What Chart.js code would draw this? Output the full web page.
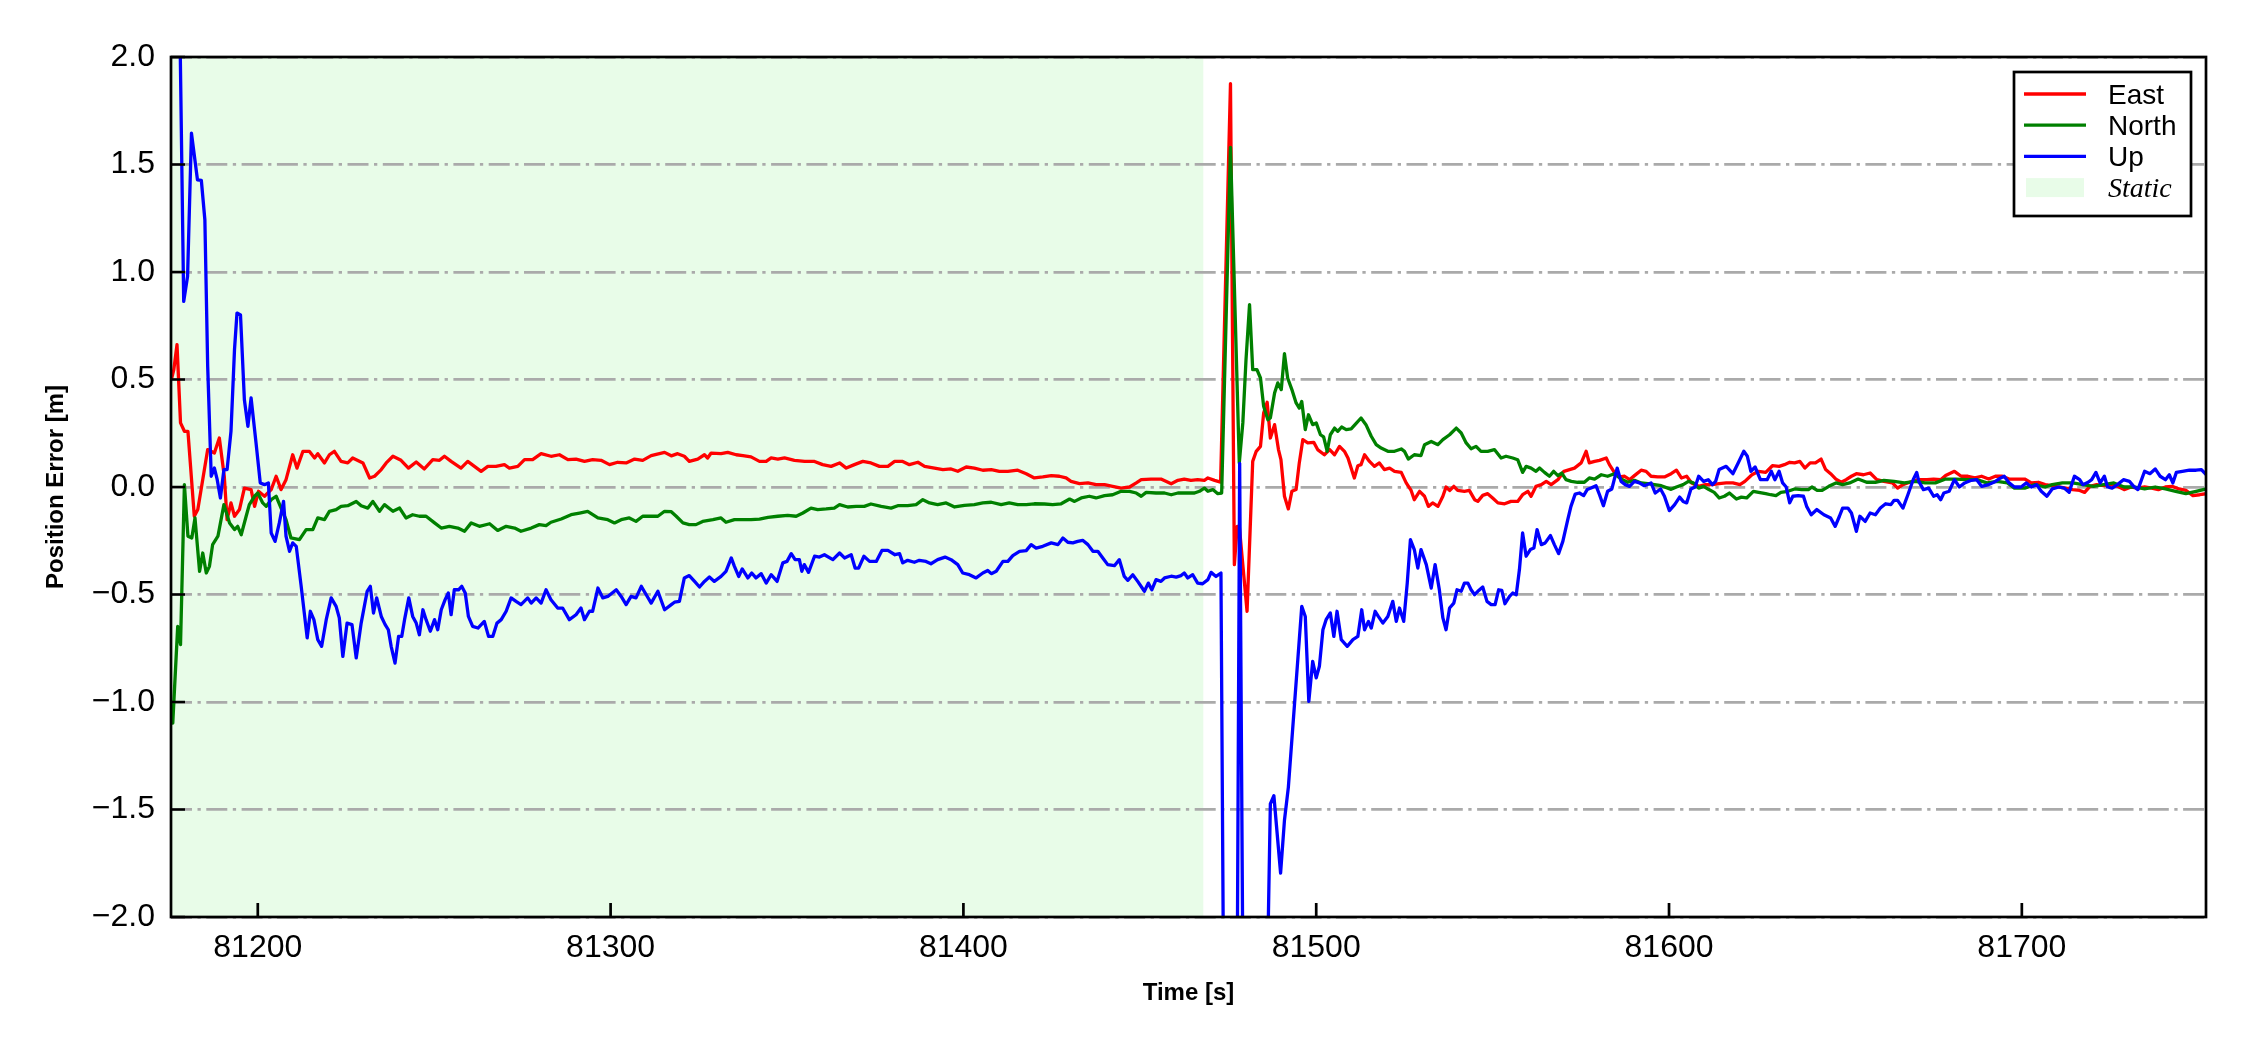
<!DOCTYPE html>
<html><head><meta charset="utf-8">
<script src="https://cdn.jsdelivr.net/npm/chart.js@4.4.1/dist/chart.umd.min.js"></script>
<style>html,body{margin:0;padding:0;background:#fff;}canvas{display:block;}</style>
</head><body>
<canvas id="c" width="2250" height="1050"></canvas>
<script>
// ---------------- data ----------------
const xRange = [81175.4, 81752.2];
const yRange = [-2.0, 2.0];
const staticSpan = [81175.4, 81468.0];
const xTicks = [81200, 81300, 81400, 81500, 81600, 81700];
const yTicks = [-2.0, -1.5, -1.0, -0.5, 0.0, 0.5, 1.0, 1.5, 2.0];
const seriesNames = ['East', 'North', 'Up'];
const staticLabel = 'Static';
const xTitle = 'Time [s]';
const yTitle = 'Position Error [m]';

const eastData = [
[81175.5,0.50],[81176.2,0.546],[81177.1,0.662],[81178.1,0.298],[81179.2,0.259],[81180.2,0.259],[81182.0,-0.136],[81183.0,-0.105],
[81185.8,0.174],[81187.7,0.158],[81189.1,0.228],[81190.5,0.05],[81191.3,-0.152],[81192.4,-0.074],[81193.4,-0.136],[81194.8,-0.105],
[81196.2,-0.005],[81198.1,-0.012],[81199.1,-0.09],[81200.2,-0.02],[81201.9,-0.043],[81203.8,-0.012],[81205.2,0.05],[81206.6,-0.012],
[81208.0,0.034],[81209.9,0.15],[81211.1,0.088],[81212.8,0.166],[81214.6,0.166],[81216.1,0.135],[81217.0,0.155],[81218.9,0.112],
[81220.3,0.15],[81221.7,0.166],[81223.6,0.119],[81225.5,0.112],[81226.9,0.135],[81229.8,0.112],[81231.7,0.042],[81233.1,0.05],
[81235.0,0.081],[81236.4,0.112],[81238.3,0.143],[81240.6,0.124],[81242.7,0.088],[81244.9,0.116],[81247.2,0.084],[81249.6,0.127],
[81251.5,0.124],[81252.9,0.143],[81254.8,0.119],[81257.6,0.088],[81259.5,0.119],[81261.4,0.096],[81263.3,0.073],[81265.2,0.096],
[81267.5,0.096],[81269.9,0.104],[81271.3,0.088],[81273.7,0.096],[81275.6,0.127],[81277.9,0.127],[81280.3,0.155],[81283.1,0.143],
[81285.5,0.15],[81287.9,0.127],[81290.2,0.130],[81292.6,0.119],[81294.9,0.127],[81297.3,0.124],[81299.7,0.104],[81302.0,0.115],
[81304.4,0.112],[81306.8,0.130],[81309.1,0.124],[81311.5,0.146],[81315.3,0.161],[81317.2,0.145],[81319.0,0.155],[81320.9,0.143],
[81322.3,0.119],[81324.7,0.13],[81326.6,0.15],[81327.5,0.135],[81328.5,0.158],[81331.3,0.155],[81333.2,0.161],[81335.6,0.15],
[81337.5,0.146],[81339.8,0.14],[81342.2,0.119],[81344.1,0.119],[81345.5,0.135],[81347.4,0.13],[81349.3,0.135],[81352.1,0.124],
[81355.0,0.119],[81357.8,0.119],[81360.1,0.104],[81362.5,0.096],[81364.9,0.112],[81366.8,0.088],[81369.1,0.104],[81371.5,0.119],
[81373.8,0.112],[81376.2,0.096],[81378.6,0.096],[81380.5,0.119],[81382.8,0.119],[81384.7,0.104],[81387.1,0.115],[81389.0,0.096],
[81391.8,0.088],[81394.2,0.081],[81396.5,0.084],[81398.4,0.073],[81400.8,0.093],[81403.1,0.088],[81405.5,0.078],[81407.9,0.081],
[81410.2,0.073],[81412.6,0.073],[81415.4,0.078],[81417.8,0.062],[81420.1,0.042],[81422.5,0.047],[81424.9,0.053],[81427.2,0.05],
[81429.1,0.042],[81430.5,0.026],[81432.9,0.016],[81435.3,0.019],[81437.6,0.011],[81440.0,0.011],[81442.3,0.003],[81444.7,-0.005],
[81447.1,0.0],[81449.0,0.019],[81450.4,0.034],[81453.2,0.037],[81456.0,0.037],[81458.9,0.015],[81460.8,0.031],[81462.6,0.037],
[81464.5,0.031],[81466.4,0.034],[81468.3,0.031],[81469.3,0.042],[81471.2,0.031],[81472.9,0.023],[81475.7,1.876],[81476.8,-0.361],
[81477.6,-0.183],[81478.2,-0.183],[81480.4,-0.578],[81482.0,0.119],[81483.0,0.166],[81484.2,0.189],[81485.1,0.344],[81486.1,0.394],
[81487.0,0.228],[81488.2,0.29],[81489.3,0.174],[81490.0,0.127],[81491.0,-0.043],[81492.1,-0.102],[81493.1,-0.02],[81494.3,-0.012],
[81495.2,0.112],[81496.2,0.22],[81497.6,0.205],[81499.3,0.208],[81500.4,0.174],[81502.3,0.15],[81503.8,0.174],[81505.2,0.15],
[81506.6,0.189],[81508.0,0.166],[81509.0,0.135],[81510.8,0.042],[81511.8,0.099],[81512.7,0.104],[81513.7,0.15],[81515.1,0.119],
[81516.5,0.096],[81517.9,0.112],[81519.3,0.081],[81520.8,0.088],[81522.2,0.073],[81524.1,0.068],[81525.5,0.019],[81526.9,-0.016],
[81527.8,-0.059],[81529.3,-0.02],[81530.7,-0.043],[81531.8,-0.09],[81533.0,-0.074],[81534.5,-0.09],[81535.9,-0.043],[81536.8,0.0],
[81537.8,-0.016],[81539.0,0.003],[81540.1,-0.016],[81542.0,-0.02],[81543.4,-0.016],[81544.9,-0.059],[81545.8,-0.067],[81547.2,-0.039],
[81548.6,-0.031],[81550.0,-0.051],[81551.5,-0.074],[81553.4,-0.078],[81555.2,-0.067],[81557.1,-0.067],[81558.5,-0.036],[81560.0,-0.02],
[81560.9,-0.043],[81562.3,0.003],[81563.8,0.011],[81565.2,0.026],[81566.6,0.011],[81568.5,0.034],[81570.2,0.073],[81571.8,0.081],
[81573.2,0.088],[81575.1,0.112],[81576.5,0.166],[81577.4,0.112],[81578.9,0.119],[81580.3,0.124],[81582.2,0.135],[81583.1,0.104],
[81584.5,0.068],[81586.0,0.047],[81587.4,0.05],[81588.8,0.034],[81590.2,0.053],[81592.1,0.078],[81593.5,0.073],[81594.9,0.05],
[81596.8,0.047],[81598.7,0.047],[81600.6,0.062],[81602.1,0.078],[81603.5,0.042],[81605.0,0.05],[81606.4,0.019],[81608.4,0.003],
[81610.3,0.011],[81612.3,0.011],[81614.2,0.016],[81616.2,0.019],[81618.1,0.019],[81620.1,0.011],[81621.5,0.026],[81623.5,0.057],
[81625.4,0.073],[81627.4,0.068],[81629.3,0.099],[81631.2,0.096],[81632.7,0.104],[81634.2,0.115],[81635.6,0.112],[81637.1,0.119],
[81638.5,0.088],[81640.0,0.112],[81641.5,0.112],[81643.1,0.13],[81644.4,0.081],[81645.8,0.062],[81647.3,0.037],[81648.8,0.022],
[81650.2,0.034],[81651.7,0.05],[81653.1,0.062],[81655.1,0.057],[81657.0,0.065],[81658.9,0.034],[81660.9,0.026],[81663.3,0.019],
[81664.8,-0.005],[81666.3,0.011],[81668.2,0.022],[81670.6,0.034],[81673.1,0.034],[81675.0,0.037],[81677.0,0.034],[81678.4,0.053],
[81680.9,0.073],[81682.8,0.05],[81684.7,0.05],[81686.7,0.042],[81688.6,0.05],[81690.6,0.037],[81692.5,0.05],[81694.5,0.05],
[81696.4,0.037],[81698.4,0.037],[81700.8,0.037],[81702.7,0.019],[81704.7,0.022],[81706.6,0.011],[81708.6,0.006],[81710.5,0.0],
[81712.5,-0.005],[81714.4,-0.012],[81716.4,-0.016],[81717.8,-0.025],[81719.3,0.003],[81721.2,0.011],[81723.2,0.006],[81725.1,0.011],
[81727.1,0.003],[81729.0,-0.012],[81731.0,0.0],[81732.9,-0.005],[81734.8,0.0],[81736.8,-0.005],[81738.7,-0.012],[81740.7,0.0],
[81742.6,0.003],[81744.6,-0.009],[81746.5,-0.016],[81748.5,-0.04],[81750.4,-0.036],[81752.3,-0.031]
];

const northData = [
[81175.5,-1.02],[81175.9,-1.098],[81177.3,-0.648],[81178.1,-0.733],[81179.2,0.011],[81180.2,-0.229],[81181.3,-0.237],[81182.2,-0.144],
[81183.5,-0.392],[81184.4,-0.307],[81185.4,-0.4],[81186.3,-0.369],[81187.2,-0.268],[81188.7,-0.229],[81190.4,-0.082],[81192.0,-0.167],
[81193.4,-0.198],[81194.3,-0.183],[81195.3,-0.222],[81196.7,-0.136],[81197.6,-0.082],[81199.1,-0.043],[81200.0,-0.028],[81201.4,-0.074],
[81202.4,-0.09],[81203.8,-0.059],[81205.2,-0.043],[81206.6,-0.098],[81208.0,-0.152],[81209.4,-0.237],[81211.8,-0.245],[81213.7,-0.198],
[81215.6,-0.198],[81217.0,-0.144],[81218.9,-0.152],[81220.3,-0.113],[81222.2,-0.105],[81223.6,-0.09],[81225.5,-0.087],[81227.9,-0.067],
[81229.3,-0.087],[81231.2,-0.098],[81232.6,-0.067],[81234.5,-0.113],[81235.9,-0.082],[81238.3,-0.113],[81240.2,-0.098],[81242.0,-0.144],
[81243.9,-0.129],[81245.8,-0.136],[81247.7,-0.136],[81250.1,-0.167],[81252.0,-0.191],[81254.3,-0.183],[81256.7,-0.191],[81258.6,-0.206],
[81260.5,-0.167],[81262.8,-0.183],[81265.7,-0.171],[81268.0,-0.202],[81270.4,-0.183],[81272.8,-0.191],[81274.6,-0.206],[81277.5,-0.191],
[81279.8,-0.175],[81281.7,-0.18],[81283.1,-0.164],[81286.0,-0.149],[81288.8,-0.129],[81291.2,-0.121],[81293.5,-0.113],[81296.4,-0.144],
[81299.2,-0.152],[81301.1,-0.167],[81303.0,-0.152],[81305.3,-0.144],[81307.2,-0.16],[81309.1,-0.136],[81311.5,-0.136],[81313.4,-0.136],
[81315.3,-0.113],[81317.2,-0.115],[81318.6,-0.136],[81320.5,-0.167],[81322.3,-0.175],[81324.2,-0.175],[81326.1,-0.16],[81329.0,-0.152],
[81331.3,-0.144],[81332.7,-0.164],[81335.1,-0.152],[81337.5,-0.152],[81339.8,-0.152],[81342.2,-0.149],[81344.6,-0.141],[81347.4,-0.136],
[81350.2,-0.132],[81352.6,-0.136],[81354.5,-0.121],[81356.8,-0.098],[81358.7,-0.105],[81361.1,-0.102],[81363.4,-0.098],[81364.9,-0.082],
[81367.2,-0.093],[81369.6,-0.09],[81371.9,-0.09],[81373.8,-0.079],[81376.7,-0.09],[81379.5,-0.098],[81381.4,-0.087],[81384.2,-0.087],
[81386.6,-0.082],[81388.5,-0.059],[81390.4,-0.074],[81392.7,-0.082],[81395.1,-0.074],[81397.5,-0.093],[81400.3,-0.085],[81403.1,-0.082],
[81405.5,-0.074],[81407.9,-0.071],[81410.7,-0.082],[81413.0,-0.074],[81415.4,-0.082],[81417.8,-0.082],[81420.1,-0.078],[81423.0,-0.079],
[81425.3,-0.082],[81427.7,-0.078],[81430.1,-0.056],[81431.5,-0.067],[81433.4,-0.051],[81435.7,-0.043],[81437.6,-0.051],[81440.0,-0.04],
[81442.3,-0.036],[81444.7,-0.02],[81447.1,-0.02],[81449.0,-0.028],[81450.4,-0.043],[81451.8,-0.025],[81454.6,-0.028],[81457.0,-0.028],
[81458.9,-0.036],[81460.8,-0.028],[81463.1,-0.028],[81465.5,-0.028],[81466.9,-0.02],[81468.3,-0.005],[81469.3,-0.02],[81470.7,-0.012],
[81472.1,-0.031],[81473.2,-0.028],[81475.7,1.58],[81478.2,0.112],[81479.2,0.298],[81480.1,0.592],[81481.1,0.848],[81482.0,0.546],
[81483.2,0.546],[81484.2,0.507],[81485.1,0.375],[81486.3,0.313],[81487.0,0.321],[81488.2,0.437],[81489.1,0.484],[81490.1,0.453],
[81491.0,0.62],[81491.9,0.507],[81493.1,0.453],[81494.3,0.391],[81495.2,0.367],[81495.9,0.398],[81496.9,0.267],[81497.8,0.336],
[81499.0,0.29],[81500.0,0.298],[81501.2,0.243],[81502.1,0.233],[81503.1,0.166],[81504.0,0.243],[81505.2,0.274],[81506.1,0.259],
[81507.2,0.279],[81508.5,0.267],[81509.9,0.27],[81511.0,0.29],[81512.7,0.321],[81514.1,0.29],[81515.6,0.236],[81517.0,0.197],
[81518.4,0.181],[81520.3,0.166],[81522.2,0.166],[81524.1,0.177],[81525.0,0.166],[81526.1,0.13],[81527.8,0.15],[81529.7,0.146],
[81530.7,0.197],[81532.6,0.212],[81534.5,0.197],[81535.9,0.22],[81537.8,0.243],[81539.7,0.274],[81541.1,0.251],[81542.5,0.205],
[81543.9,0.178],[81545.3,0.189],[81546.7,0.166],[81548.6,0.166],[81550.5,0.174],[81552.4,0.135],[81553.8,0.143],[81555.7,0.135],
[81557.1,0.127],[81558.5,0.068],[81559.5,0.096],[81560.9,0.088],[81562.3,0.073],[81563.3,0.088],[81564.7,0.068],[81566.1,0.05],
[81567.3,0.073],[81568.5,0.053],[81569.6,0.065],[81570.8,0.034],[81572.3,0.026],[81574.1,0.022],[81576.0,0.022],[81577.4,0.042],
[81578.9,0.037],[81580.8,0.057],[81582.6,0.05],[81584.5,0.062],[81586.4,0.037],[81588.3,0.022],[81590.2,0.031],[81592.1,0.019],
[81594.0,0.016],[81595.9,0.011],[81597.8,0.006],[81600.6,-0.011],[81602.1,0.0],[81604.0,0.011],[81605.5,0.026],[81606.9,0.019],
[81608.4,-0.005],[81609.8,0.003],[81611.3,-0.012],[81612.8,-0.025],[81614.2,-0.051],[81615.7,-0.043],[81617.1,-0.028],[81619.1,-0.056],
[81620.5,-0.047],[81622.0,-0.051],[81623.9,-0.02],[81625.4,-0.025],[81627.4,-0.031],[81628.8,-0.036],[81630.3,-0.04],[81631.7,-0.025],
[81633.7,-0.02],[81635.6,-0.009],[81637.6,-0.012],[81639.5,-0.012],[81640.5,0.0],[81642.0,-0.016],[81643.4,-0.016],[81645.3,0.003],
[81647.3,0.019],[81649.2,0.011],[81651.2,0.019],[81653.6,0.037],[81656.0,0.022],[81658.5,0.022],[81660.9,0.031],[81663.8,0.026],
[81666.7,0.019],[81669.7,0.026],[81672.6,0.019],[81675.5,0.019],[81678.4,0.037],[81681.3,0.037],[81684.3,0.034],[81687.2,0.034],
[81690.1,0.019],[81693.0,0.026],[81695.9,0.019],[81697.9,-0.005],[81700.8,-0.005],[81703.7,0.011],[81706.6,0.0],[81708.6,0.011],
[81711.5,0.019],[81714.4,0.019],[81717.3,0.011],[81720.3,0.003],[81723.2,0.011],[81726.1,0.019],[81729.0,0.0],[81732.0,0.0],
[81734.8,-0.009],[81737.8,0.0],[81740.7,-0.009],[81743.6,-0.02],[81746.5,-0.031],[81749.4,-0.02],[81752.3,-0.009]
];

const upData = [
[81175.5,3.4],[81177.0,3.0],[81178.0,2.05],[81179.0,0.863],[81180.1,0.98],[81181.2,1.646],[81182.9,1.429],[81184.0,1.426],
[81185.0,1.243],[81185.8,0.561],[81186.8,0.05],[81187.7,0.088],[81188.5,0.034],[81189.4,-0.051],[81190.4,0.081],[81191.3,0.081],
[81192.4,0.259],[81193.4,0.639],[81194.1,0.809],[81195.1,0.8],[81196.2,0.406],[81197.2,0.282],[81198.1,0.414],[81199.5,0.205],
[81200.7,0.019],[81201.9,0.011],[81203.0,0.019],[81203.8,-0.214],[81204.9,-0.253],[81206.1,-0.167],[81207.3,-0.067],[81208.0,-0.229],
[81209.0,-0.299],[81209.9,-0.26],[81210.9,-0.276],[81212.3,-0.462],[81214.0,-0.702],[81214.9,-0.578],[81215.9,-0.617],[81217.0,-0.71],
[81218.1,-0.741],[81219.4,-0.617],[81220.8,-0.516],[81222.2,-0.555],[81223.1,-0.609],[81224.1,-0.788],[81225.3,-0.633],[81226.7,-0.64],
[81227.9,-0.795],[81229.3,-0.633],[81231.0,-0.485],[81231.9,-0.462],[81232.8,-0.586],[81233.7,-0.516],[81235.0,-0.602],[81236.1,-0.64],
[81237.0,-0.664],[81237.8,-0.741],[81238.9,-0.819],[81239.9,-0.695],[81240.8,-0.695],[81241.6,-0.617],[81242.8,-0.516],[81243.9,-0.602],
[81244.9,-0.633],[81245.8,-0.687],[81246.8,-0.571],[81247.7,-0.617],[81248.9,-0.671],[81250.1,-0.617],[81251.0,-0.664],[81252.0,-0.571],
[81253.1,-0.524],[81254.0,-0.493],[81254.8,-0.594],[81255.7,-0.478],[81256.9,-0.478],[81257.8,-0.462],[81258.8,-0.493],[81259.7,-0.602],
[81260.9,-0.648],[81262.4,-0.656],[81264.2,-0.625],[81265.4,-0.695],[81266.6,-0.695],[81267.8,-0.633],[81269.0,-0.617],[81270.4,-0.578],
[81271.8,-0.516],[81273.2,-0.532],[81274.6,-0.547],[81276.5,-0.516],[81277.5,-0.54],[81278.9,-0.516],[81280.3,-0.54],[81281.7,-0.478],
[81283.1,-0.524],[81285.0,-0.563],[81286.4,-0.563],[81288.3,-0.617],[81290.2,-0.594],[81291.6,-0.563],[81292.6,-0.617],[81294.0,-0.578],
[81294.9,-0.578],[81296.4,-0.47],[81297.8,-0.516],[81299.2,-0.509],[81301.6,-0.478],[81303.0,-0.509],[81304.4,-0.547],[81305.8,-0.509],
[81307.2,-0.516],[81308.7,-0.462],[81310.1,-0.501],[81311.5,-0.54],[81313.4,-0.485],[81315.3,-0.571],[81317.2,-0.547],[81318.1,-0.536],
[81319.5,-0.532],[81320.9,-0.423],[81322.3,-0.412],[81323.8,-0.439],[81325.2,-0.465],[81326.6,-0.439],[81328.0,-0.419],[81329.4,-0.439],
[81331.3,-0.416],[81332.7,-0.392],[81334.2,-0.33],[81335.1,-0.369],[81336.3,-0.416],[81337.3,-0.381],[81338.9,-0.423],[81340.0,-0.4],
[81341.2,-0.423],[81342.7,-0.403],[81344.1,-0.447],[81345.5,-0.408],[81347.2,-0.439],[81348.8,-0.353],[81350.0,-0.346],[81351.2,-0.31],
[81352.3,-0.338],[81353.5,-0.338],[81354.2,-0.392],[81354.9,-0.361],[81356.1,-0.397],[81357.8,-0.322],[81359.2,-0.326],[81360.6,-0.315],
[81363.0,-0.338],[81364.9,-0.307],[81366.3,-0.33],[81368.2,-0.315],[81369.3,-0.377],[81370.3,-0.377],[81371.8,-0.322],[81373.4,-0.346],
[81375.3,-0.346],[81376.9,-0.295],[81378.6,-0.295],[81380.6,-0.315],[81381.9,-0.31],[81382.8,-0.353],[81384.2,-0.341],[81386.1,-0.35],
[81387.5,-0.341],[81389.4,-0.346],[81390.8,-0.357],[81392.7,-0.338],[81394.8,-0.326],[81396.5,-0.338],[81398.4,-0.361],[81399.8,-0.4],
[81401.7,-0.408],[81403.6,-0.423],[81405.5,-0.4],[81406.9,-0.388],[81407.9,-0.403],[81409.3,-0.392],[81411.2,-0.346],[81412.6,-0.346],
[81414.0,-0.319],[81415.9,-0.299],[81417.8,-0.296],[81419.2,-0.268],[81420.6,-0.284],[81422.5,-0.276],[81424.9,-0.26],[81426.8,-0.268],
[81428.2,-0.237],[81429.6,-0.257],[81431.0,-0.26],[81432.4,-0.253],[81433.8,-0.248],[81435.3,-0.268],[81436.7,-0.299],[81438.1,-0.299],
[81439.5,-0.33],[81440.9,-0.361],[81442.8,-0.366],[81444.2,-0.338],[81445.6,-0.416],[81446.6,-0.434],[81448.0,-0.408],[81449.4,-0.439],
[81451.3,-0.485],[81452.4,-0.447],[81453.4,-0.478],[81454.6,-0.431],[81456.0,-0.439],[81457.0,-0.423],[81458.9,-0.415],[81460.3,-0.419],
[81461.7,-0.412],[81462.6,-0.4],[81463.6,-0.423],[81465.0,-0.408],[81466.4,-0.447],[81467.8,-0.45],[81469.3,-0.431],[81470.2,-0.397],
[81471.6,-0.416],[81473.0,-0.4],[81474.0,-3.0],[81477.4,-3.0],[81478.3,0.11],[81479.5,-3.0],[81482.5,-3.0],[81485.8,-2.6],
[81487.0,-1.474],[81488.0,-1.436],[81489.9,-1.796],[81491.0,-1.55],[81492.1,-1.397],[81495.9,-0.555],[81496.9,-0.602],[81497.9,-0.997],
[81499.0,-0.811],[81500.0,-0.888],[81500.9,-0.834],[81501.9,-0.664],[81502.8,-0.617],[81504.0,-0.586],[81505.0,-0.695],[81505.9,-0.578],
[81507.1,-0.71],[81508.8,-0.741],[81510.4,-0.71],[81511.8,-0.695],[81512.9,-0.571],[81513.7,-0.664],[81514.8,-0.625],[81515.6,-0.656],
[81516.7,-0.578],[81517.6,-0.602],[81518.9,-0.633],[81520.3,-0.602],[81521.7,-0.532],[81522.7,-0.625],[81523.6,-0.563],[81524.8,-0.625],
[81525.8,-0.447],[81526.7,-0.245],[81527.8,-0.291],[81528.8,-0.377],[81529.7,-0.291],[81531.2,-0.361],[81532.6,-0.47],[81533.7,-0.361],
[81534.9,-0.478],[81535.9,-0.609],[81536.8,-0.664],[81537.8,-0.563],[81539.0,-0.54],[81539.9,-0.478],[81541.1,-0.485],[81542.0,-0.447],
[81543.0,-0.447],[81543.9,-0.478],[81544.9,-0.501],[81545.8,-0.485],[81547.2,-0.465],[81548.4,-0.532],[81549.6,-0.547],[81550.7,-0.547],
[81551.7,-0.478],[81552.6,-0.481],[81553.5,-0.543],[81554.8,-0.509],[81555.7,-0.493],[81556.7,-0.501],[81557.6,-0.384],[81558.5,-0.214],
[81559.5,-0.322],[81560.7,-0.291],[81561.7,-0.284],[81562.6,-0.198],[81563.8,-0.268],[81564.9,-0.26],[81566.4,-0.226],[81567.5,-0.268],
[81568.7,-0.31],[81569.9,-0.253],[81571.3,-0.152],[81572.2,-0.09],[81573.4,-0.033],[81574.6,-0.028],[81575.8,-0.04],[81576.8,-0.012],
[81577.9,-0.005],[81579.3,0.006],[81580.3,-0.036],[81581.4,-0.087],[81582.6,-0.02],[81583.8,-0.009],[81585.3,0.088],[81586.4,0.026],
[81587.6,0.011],[81588.8,0.003],[81590.2,0.026],[81591.6,0.019],[81593.0,0.006],[81594.9,0.019],[81596.1,-0.028],[81597.6,-0.009],
[81598.7,-0.043],[81600.1,-0.11],[81601.6,-0.082],[81603.0,-0.047],[81604.0,-0.067],[81605.0,-0.074],[81606.2,-0.009],[81607.4,0.0],
[81608.4,0.05],[81609.8,0.026],[81611.1,0.034],[81612.3,0.011],[81613.2,0.026],[81614.2,0.081],[81616.2,0.096],[81618.1,0.062],
[81619.6,0.112],[81621.2,0.166],[81622.2,0.143],[81623.2,0.073],[81624.4,0.093],[81625.9,0.034],[81627.8,0.034],[81629.0,0.073],
[81630.0,0.034],[81631.2,0.073],[81632.2,0.019],[81633.2,0.0],[81634.2,-0.074],[81635.1,-0.043],[81636.6,-0.04],[81638.1,-0.043],
[81639.0,-0.09],[81640.3,-0.129],[81641.9,-0.105],[81643.9,-0.129],[81645.8,-0.144],[81647.1,-0.183],[81648.3,-0.136],[81649.2,-0.098],
[81650.7,-0.098],[81651.7,-0.121],[81653.1,-0.206],[81654.1,-0.136],[81655.6,-0.16],[81657.0,-0.121],[81658.5,-0.129],[81659.9,-0.098],
[81661.4,-0.078],[81662.9,-0.082],[81663.8,-0.062],[81664.8,-0.062],[81666.3,-0.098],[81667.7,-0.036],[81669.2,0.034],[81670.2,0.068],
[81670.8,0.026],[81672.1,-0.012],[81673.6,-0.005],[81675.0,-0.043],[81676.0,-0.036],[81677.0,-0.059],[81677.9,-0.028],[81679.4,-0.02],
[81680.9,0.034],[81682.3,0.0],[81683.8,0.019],[81685.7,0.031],[81687.2,0.034],[81688.6,0.003],[81690.6,0.011],[81692.5,0.026],
[81694.0,0.042],[81695.0,0.05],[81696.4,0.019],[81697.9,0.0],[81699.8,0.0],[81701.3,0.019],[81702.7,0.0],[81704.2,0.011],
[81705.5,-0.02],[81707.1,-0.043],[81708.6,-0.009],[81710.5,0.0],[81712.0,-0.005],[81713.4,-0.025],[81714.9,0.05],[81716.4,0.034],
[81717.3,0.011],[81718.8,0.022],[81719.8,0.034],[81721.0,0.068],[81722.2,0.019],[81723.4,0.05],[81724.3,0.0],[81725.6,-0.005],
[81727.1,0.011],[81728.8,0.034],[81730.5,0.026],[81731.7,0.003],[81732.9,-0.012],[81734.8,0.073],[81736.3,0.062],[81737.8,0.084],
[81739.2,0.05],[81740.7,0.034],[81741.8,0.057],[81742.8,0.019],[81743.8,0.068],[81745.5,0.073],[81747.5,0.078],[81749.4,0.078],
[81750.9,0.081],[81752.3,0.057]
];

// ---------------- style ----------------
const SANS = "'Liberation Sans', Arial, sans-serif";
const SERIF = "'Liberation Serif', 'Times New Roman', serif";
const seriesColors = ['#ff0000', '#008000', '#0000ff'];
const staticColor = '#e8fce8';
const AREA = {left: 171, top: 57, right: 2206, bottom: 917, W: 2250, H: 1050};

const fmtY = v => (v < 0 ? '\u2212' : '') + Math.abs(v).toFixed(1);

const decor = {
  id: 'decor',
  beforeDraw(chart) {
    const {ctx, chartArea: a, scales: {x}} = chart;
    ctx.save();
    ctx.fillStyle = '#ffffff';
    ctx.fillRect(0, 0, chart.width, chart.height);
    const x0 = Math.max(a.left, x.getPixelForValue(staticSpan[0]));
    const x1 = Math.min(a.right, x.getPixelForValue(staticSpan[1]));
    ctx.fillStyle = staticColor;
    ctx.fillRect(x0, a.top, x1 - x0, a.bottom - a.top);
    ctx.restore();
  },
  afterDraw(chart) {
    const {ctx, chartArea: a, scales: {x, y}} = chart;
    ctx.save();
    ctx.strokeStyle = '#000';
    ctx.lineWidth = 2.7;
    ctx.lineCap = 'butt';
    ctx.beginPath();
    xTicks.forEach(v => { const p = x.getPixelForValue(v); ctx.moveTo(p, a.bottom); ctx.lineTo(p, a.bottom - 14); });
    yTicks.forEach(v => { const p = y.getPixelForValue(v); ctx.moveTo(a.left, p); ctx.lineTo(a.left + 14, p); });
    ctx.stroke();
    ctx.strokeRect(a.left, a.top, a.right - a.left, a.bottom - a.top);

    // legend
    const bw = 177, bh = 144;
    const bx = a.right - 15 - bw, by = a.top + 15;
    ctx.fillStyle = '#fff';
    ctx.fillRect(bx, by, bw, bh);
    ctx.lineWidth = 2.7;
    ctx.strokeStyle = '#000';
    ctx.strokeRect(bx, by, bw, bh);
    const rowY = i => by + 22 + i * 31.2;
    seriesNames.forEach((name, i) => {
      const yy = rowY(i);
      ctx.strokeStyle = seriesColors[i];
      ctx.lineWidth = 3.3;
      ctx.beginPath(); ctx.moveTo(bx + 10, yy); ctx.lineTo(bx + 72, yy); ctx.stroke();
      ctx.fillStyle = '#000';
      ctx.font = '28px ' + SANS;
      ctx.textBaseline = 'alphabetic';
      ctx.textAlign = 'left';
      ctx.fillText(name, bx + 94, yy + 10);
    });
    const ys = rowY(3);
    ctx.fillStyle = staticColor;
    ctx.fillRect(bx + 12, ys - 9.5, 58, 19);
    ctx.fillStyle = '#000';
    ctx.font = 'italic 28px ' + SERIF;
    ctx.fillText(staticLabel, bx + 94, ys + 9);
    ctx.restore();
  }
};

const mk = (data, i, order) => ({
  label: seriesNames[i],
  data: data.map(([t, v]) => ({x: t, y: v})),
  borderColor: seriesColors[i],
  backgroundColor: seriesColors[i],
  borderWidth: 3.3,
  borderJoinStyle: 'round',
  borderCapStyle: 'butt',
  pointRadius: 0,
  tension: 0,
  fill: false,
  clip: 0,
  order: order
});

new Chart(document.getElementById('c'), {
  type: 'line',
  data: {datasets: [mk(eastData, 0, 2), mk(northData, 1, 1), mk(upData, 2, 0)]},
  options: {
    responsive: false,
    animation: false,
    devicePixelRatio: 1,
    parsing: false,
    normalized: true,
    layout: {padding: {left: 0, top: AREA.top, right: AREA.W - AREA.right, bottom: 0}},
    plugins: {legend: {display: false}, tooltip: {enabled: false}},
    scales: {
      x: {
        type: 'linear', min: xRange[0], max: xRange[1],
        afterFit: s => { s.height = AREA.H - AREA.bottom; },
        afterBuildTicks: s => { s.ticks = xTicks.map(v => ({value: v})); },
        grid: {display: false, drawTicks: false},
        border: {display: false},
        ticks: {autoSkip: false, maxRotation: 0, padding: 12, color: '#000',
          font: {family: SANS, size: 32}, callback: v => String(v)},
        title: {display: true, text: xTitle, color: '#000',
          font: {family: SANS, size: 24, weight: 'bold'}, padding: {top: 0, bottom: 42}}
      },
      y: {
        type: 'linear', min: yRange[0], max: yRange[1],
        afterFit: s => { s.width = AREA.left; },
        afterBuildTicks: s => { s.ticks = yTicks.map(v => ({value: v})); },
        grid: {display: true, drawTicks: false, color: '#aaaaaa', lineWidth: 2.8},
        border: {display: false, dash: [21, 5.5, 3.3, 5.5]},
        ticks: {autoSkip: false, padding: 16, color: '#000',
          font: {family: SANS, size: 32}, callback: v => fmtY(v)},
        title: {display: true, text: yTitle, color: '#000',
          font: {family: SANS, size: 24, weight: 'bold'}, padding: {top: 42, bottom: 0}}
      }
    }
  },
  plugins: [decor]
});
</script>
</body></html>
